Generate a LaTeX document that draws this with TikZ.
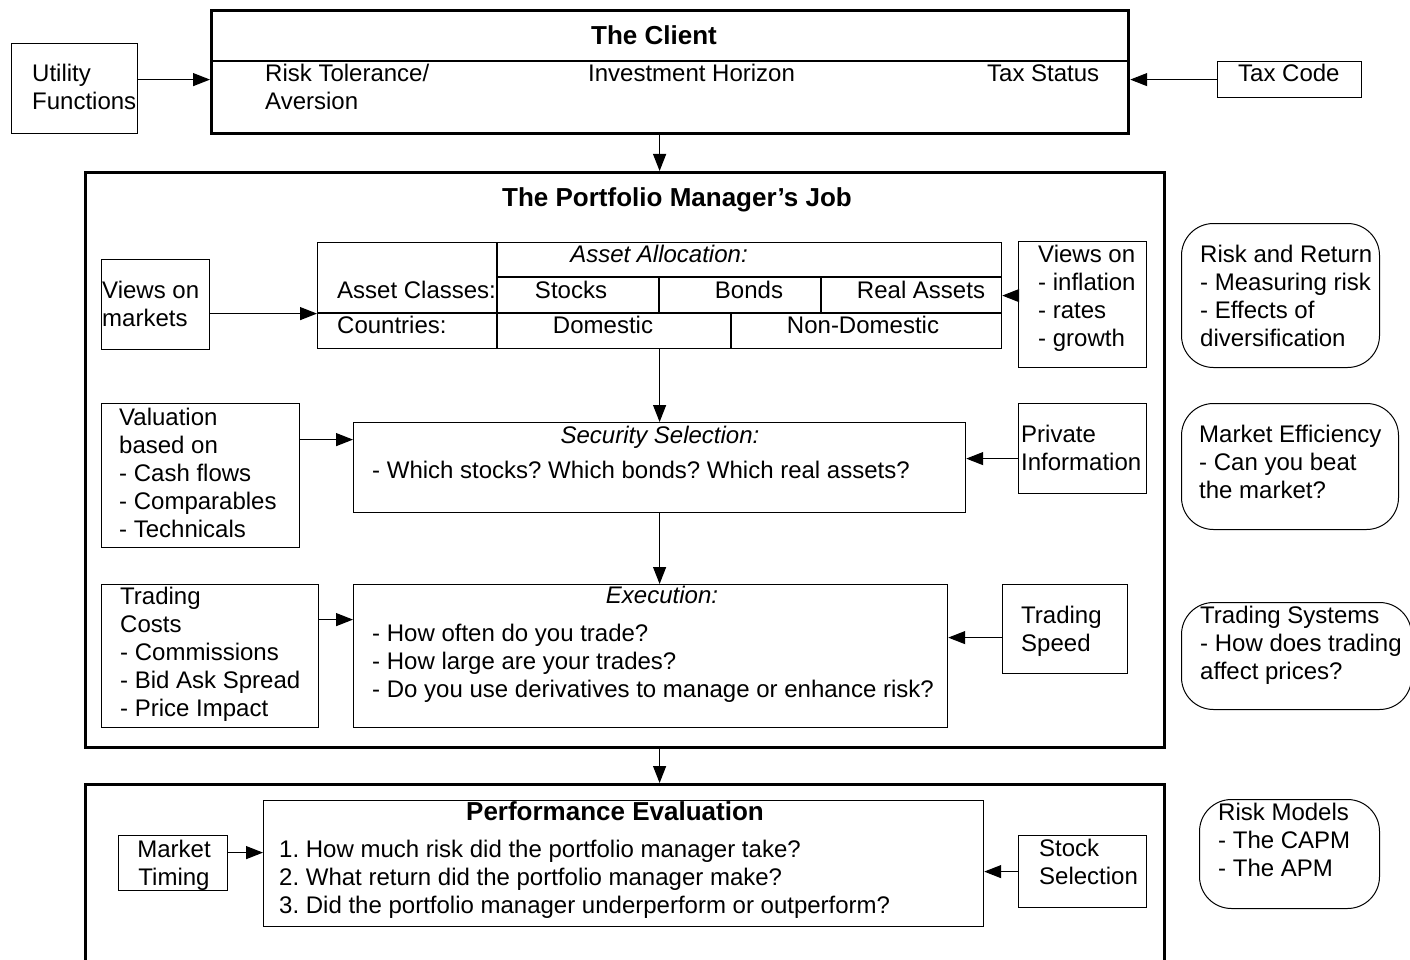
\documentclass[tikz,border=0pt]{standalone}
\usepackage{fontspec}
\setmainfont{Liberation Sans}
\usepackage{tikz}
\usetikzlibrary{arrows.meta,positioning,calc}
\frenchspacing

\begin{document}
\begin{tikzpicture}[x=1pt,y=-1pt,
  wh/.style 2 args={minimum width=#1pt,minimum height=#2pt},
  frame/.style={draw,line width=3.2pt,inner sep=0pt,anchor=north west},
  box/.style={draw,line width=1.2pt,inner sep=0pt,anchor=north west},
  note/.style={draw,line width=1pt,rounded corners=32pt,inner sep=0pt,anchor=north west},
  txt/.style={font=\fontsize{24}{28}\selectfont,align=left,inner sep=0pt,anchor=base west},
  hd/.style={font=\bfseries\fontsize{26}{30}\selectfont,inner sep=0pt,anchor=base},
  sub/.style={font=\itshape\fontsize{24}{28}\selectfont,inner sep=0pt,anchor=base},
  arr/.style={-{Triangle[length=17pt,width=13pt]},line width=1.2pt}
]
  \useasboundingbox (0,0) rectangle (1410,960);
  \fill[white] (0,0) rectangle (1410,960);

  % the client (text nodes sit on the baseline of their last line)
  \node[frame,wh={917}{123}] (client) at (210,9) {};
  \draw[line width=1.2pt] (210,61) -- (1127,61);
  \node[hd] (clienttitle) at (654,45) {The Client};
  \node[txt] (risktol) at (265,110) {Risk Tolerance/\\Aversion};
  \node[txt] (horizon) at (588,82) {Investment Horizon};
  \node[txt] (taxstat) at (987,82) {Tax Status};
  \node[box,wh={126}{90}] (utility) at (11,43) {};
  \node[txt] (utilitytxt) at (32,110) {Utility\\Functions};
  \node[box,wh={144}{36}] (taxcode) at (1217,61) {};
  \node[txt] (taxcodetxt) at (1238,82) {Tax Code};

  % the portfolio manager
  \node[frame,wh={1079}{575}] (pm) at (84,171) {};
  \node[hd] (pmtitle) at (677,207) {The Portfolio Manager's Job};

  \node[box,wh={108}{90}] (mkts) at (101,259) {};
  \node[txt] (mktstxt) at (102,326) {Views on\\markets};

  \node[box,wh={684}{106}] (alloc) at (317,242) {};
  \draw[line width=1.2pt] (497,242) -- (497,348);
  \draw[line width=1.2pt] (497,277) -- (1001,277);
  \draw[line width=1.2pt] (317,313) -- (1001,313);
  \draw[line width=1.2pt] (659,277) -- (659,313);
  \draw[line width=1.2pt] (821,277) -- (821,313);
  \draw[line width=1.2pt] (731,313) -- (731,348);
  \node[sub] (alloctitle) at (659,262) {Asset Allocation:};
  \node[txt] (classes) at (337,298) {Asset Classes:};
  \node[txt] (countries) at (337,333) {Countries:};
  \node[txt,anchor=base] (stocks) at (571,298) {Stocks};
  \node[txt,anchor=base] (bonds) at (749,298) {Bonds};
  \node[txt,anchor=base] (realassets) at (921,298) {Real Assets};
  \node[txt,anchor=base] (domestic) at (603,333) {Domestic};
  \node[txt,anchor=base] (nondomestic) at (863,333) {Non-Domestic};

  \node[box,wh={128}{126}] (macro) at (1018,241) {};
  \node[txt] (macrotxt) at (1038,346) {Views on\\- inflation\\- rates\\- growth};

  \node[box,wh={198}{144}] (valu) at (101,403) {};
  \node[txt] (valutxt) at (119,537) {Valuation\\based on\\- Cash flows\\- Comparables\\- Technicals};

  \node[box,wh={612}{90}] (secsel) at (353,422) {};
  \node[sub] (secseltitle) at (660,443) {Security Selection:};
  \node[txt] (secseltxt) at (372,478) {- Which stocks? Which bonds? Which real assets?};

  \node[box,wh={128}{90}] (private) at (1018,403) {};
  \node[txt] (privatetxt) at (1021,470) {Private\\Information};

  \node[box,wh={217}{143}] (tcost) at (101,584) {};
  \node[txt] (tcosttxt) at (120,716) {Trading\\Costs\\- Commissions\\- Bid Ask Spread\\- Price Impact};

  \node[box,wh={594}{143}] (exec) at (353,584) {};
  \node[sub] (exectitle) at (662,603) {Execution:};
  \node[txt] (exectxt) at (372,697) {- How often do you trade?\\- How large are your trades?\\- Do you use derivatives to manage or enhance risk?};

  \node[box,wh={125}{89}] (tspeed) at (1002,584) {};
  \node[txt] (tspeedtxt) at (1021,651) {Trading\\Speed};

  % performance evaluation
  \node[frame,wh={1079}{200}] (perf) at (84,783) {};
  \node[box,wh={720}{126}] (perfev) at (263,800) {};
  \node[hd] (perftitle) at (615,820) {Performance Evaluation};
  \node[txt] (perftxt) at (279,913) {1. How much risk did the portfolio manager take?\\2. What return did the portfolio manager make?\\3. Did the portfolio manager underperform or outperform?};
  \node[box,wh={109}{55}] (mtime) at (118,835) {};
  \node[txt,align=center,anchor=base] (mtimetxt) at (174,885) {Market\\Timing};
  \node[box,wh={128}{72}] (stocksel) at (1018,835) {};
  \node[txt] (stockseltxt) at (1039,884) {Stock\\Selection};

  % side notes
  \node[note,wh={198}{144}] (riskret) at (1181,223) {};
  \node[txt] (riskrettxt) at (1200,346) {Risk and Return\\- Measuring risk\\- Effects of\\diversification};
  \node[note,wh={217}{126}] (mkteff) at (1181,403) {};
  \node[txt] (mktefftxt) at (1199,498) {Market Efficiency\\- Can you beat\\the market?};
  \node[note,wh={230}{107}] (tsys) at (1181,602) {};
  \node[txt] (tsystxt) at (1200,679) {Trading Systems\\- How does trading\\affect prices?};
  \node[note,wh={180}{109}] (riskmod) at (1199,799) {};
  \node[txt] (riskmodtxt) at (1218,876) {Risk Models\\- The CAPM\\- The APM};

  % arrows
  \path ([yshift=9pt]utility.east) coordinate (ua);
  \draw[arr] (ua) -- (ua -| client.west);
  \draw[arr] (taxcode.west) -- (taxcode.west -| client.east);
  \draw[arr] (client.south -| alloc.north) -- (pm.north -| alloc.north);
  \path ([yshift=-9pt]mkts.east) coordinate (ma);
  \draw[arr] (ma) -- (ma -| alloc.west);
  \draw[arr] (macro.west |- alloc.east) -- (alloc.east);
  \draw[arr] (alloc.south) -- (secsel.north);
  \path ([yshift=36pt]valu.east) coordinate (va);
  \draw[arr] (va) -- (va -| secsel.west);
  \path ([yshift=-10pt]private.west) coordinate (pa);
  \draw[arr] (pa) -- (pa -| secsel.east);
  \draw[arr] (secsel.south) -- (secsel.south |- exec.north);
  \path ([yshift=36.5pt]tcost.east) coordinate (ta);
  \draw[arr] (ta) -- (ta -| exec.west);
  \path ([yshift=-8.5pt]tspeed.west) coordinate (sa);
  \draw[arr] (sa) -- (sa -| exec.east);
  \draw[arr] (pm.south -| alloc.south) -- (perf.north -| alloc.south);
  \path ([yshift=10.5pt]mtime.east) coordinate (mt);
  \draw[arr] (mt) -- (mt -| perfev.west);
  \draw[arr] (stocksel.west) -- (stocksel.west -| perfev.east);
\end{tikzpicture}
\end{document}
